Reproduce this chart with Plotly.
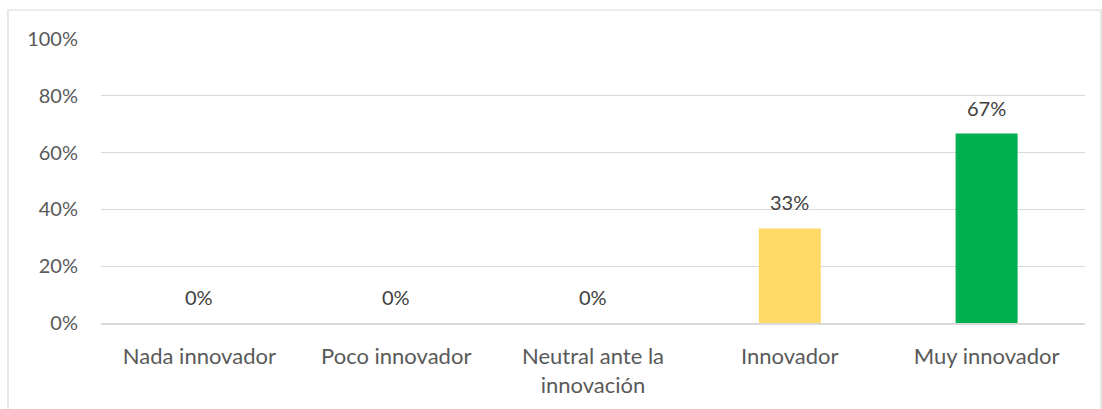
import plotly.graph_objects as go

categories = ["Nada innovador", "Poco innovador", "Neutral ante la<br>innovación", "Innovador", "Muy innovador"]
values = [0.0, 0.0, 0.0, 0.333, 0.667]
labels = ["0%", "0%", "0%", "33%", "67%"]
colors = ["#FFD966", "#FFD966", "#FFD966", "#FFD966", "#00B050"]
tick_vals = [0, 0.2, 0.4, 0.6, 0.8, 1.0]
tick_text = ["0%", "20%", "40%", "60%", "80%", "100%"]

W, H = 1102, 409
L, R, T, B = 101, 17, 39, 86
pw, ph = W - L - R, H - T - B

fig = go.Figure(go.Bar(
    x=categories, y=values,
    marker=dict(color=colors, line=dict(width=0)),
))

for c, v, t in zip(categories, values, labels):
    fig.add_annotation(x=c, y=v, text=t, showarrow=False, yanchor="middle",
                       yshift=26, font=dict(family="Lato", size=20, color="#404040"))

fig.update_layout(
    width=W, height=H,
    margin=dict(l=L, r=R, t=T, b=B),
    paper_bgcolor="white", plot_bgcolor="white",
    bargap=0.685,
    showlegend=False,
    font=dict(family="Lato", size=20, color="#595959"),
    xaxis=dict(showline=True, linecolor="#D9D9D9", linewidth=1.5, ticks="",
               ticklabelstandoff=13,
               tickfont=dict(size=22, color="#595959")),
    yaxis=dict(range=[0, 1], tickvals=tick_vals, ticktext=tick_text,
               showgrid=True, gridcolor="#D9D9D9", gridwidth=1.2,
               zeroline=False, showline=False, ticks="", ticklabelstandoff=22,
               tickfont=dict(size=20, color="#595959")),
    shapes=[dict(type="rect", xref="paper", yref="paper",
                 x0=(8 - L) / pw, x1=(W - 1 - L) / pw,
                 y0=-0.6, y1=(H - B - 10) / ph,
                 line=dict(color="#D9D9D9", width=1.2), layer="below")],
)

fig.write_html("out.html")
